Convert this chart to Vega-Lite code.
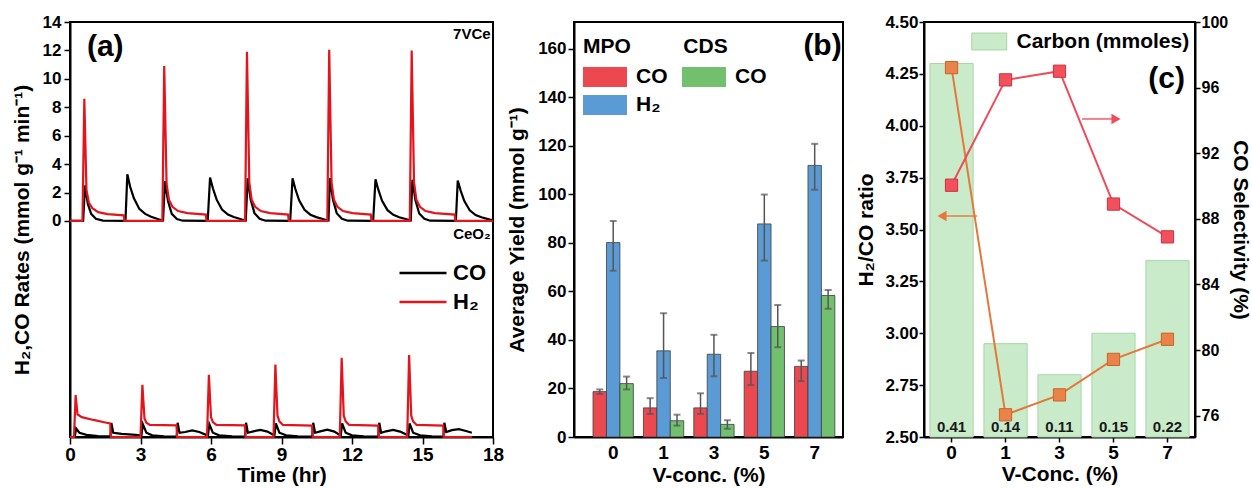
{
"$schema":"https://vega.github.io/schema/vega-lite/v6.json",
"autosize":{"type":"pad"},
"padding":{"left":10,"top":12,"right":1,"bottom":0},
"background":"white",
"bounds":"flush",
"spacing":81,
"config":{
 "font":"Liberation Sans",
 "view":{"stroke":"#000","strokeWidth":2},
 "axis":{"domainColor":"#000","domainWidth":2,"tickColor":"#000","tickWidth":1.5,"labelColor":"#000","labelFont":"Liberation Sans","labelFontWeight":"bold","labelFontSize":17,"titleFont":"Liberation Sans","titleFontWeight":"bold","titleFontSize":21,"titleColor":"#000","grid":false},
 "legend":{"labelFont":"Liberation Sans","labelFontWeight":"bold","labelColor":"#000","titleFont":"Liberation Sans","titleFontWeight":"bold","titleColor":"#000","padding":0,"labelLimit":400}
},
"datasets":{
 "a7":[
  {"gas":"CO","t":0,"r":0},{"gas":"CO","t":0.56,"r":0},{"gas":"CO","t":0.64,"r":2.5},{"gas":"CO","t":0.76,"r":1.2},{"gas":"CO","t":0.9,"r":0.5},{"gas":"CO","t":1.1,"r":0.15},{"gas":"CO","t":1.4,"r":0.03},{"gas":"CO","t":2.36,"r":0},{"gas":"CO","t":2.44,"r":3.28},{"gas":"CO","t":2.56,"r":2.4},{"gas":"CO","t":2.72,"r":1.6},{"gas":"CO","t":2.95,"r":0.85},{"gas":"CO","t":3.2,"r":0.5},{"gas":"CO","t":3.45,"r":0.3},{"gas":"CO","t":3.8,"r":0.1},{"gas":"CO","t":3.96,"r":0.04},
  {"gas":"CO","t":4.04,"r":2.8},{"gas":"CO","t":4.17,"r":1.4},{"gas":"CO","t":4.33,"r":0.5},{"gas":"CO","t":4.55,"r":0.14},{"gas":"CO","t":4.8,"r":0.02},{"gas":"CO","t":5.86,"r":0},{"gas":"CO","t":5.96,"r":3.05},{"gas":"CO","t":6.08,"r":2.3},{"gas":"CO","t":6.24,"r":1.5},{"gas":"CO","t":6.47,"r":0.8},{"gas":"CO","t":6.72,"r":0.45},{"gas":"CO","t":6.97,"r":0.28},{"gas":"CO","t":7.32,"r":0.1},{"gas":"CO","t":7.48,"r":0.04},
  {"gas":"CO","t":7.56,"r":3.0},{"gas":"CO","t":7.69,"r":1.5},{"gas":"CO","t":7.85,"r":0.55},{"gas":"CO","t":8.07,"r":0.15},{"gas":"CO","t":8.32,"r":0.02},{"gas":"CO","t":9.37,"r":0},{"gas":"CO","t":9.47,"r":3.0},{"gas":"CO","t":9.59,"r":2.25},{"gas":"CO","t":9.75,"r":1.45},{"gas":"CO","t":9.98,"r":0.78},{"gas":"CO","t":10.23,"r":0.44},{"gas":"CO","t":10.48,"r":0.27},{"gas":"CO","t":10.83,"r":0.1},{"gas":"CO","t":11.0,"r":0.04},
  {"gas":"CO","t":11.06,"r":3.02},{"gas":"CO","t":11.19,"r":1.5},{"gas":"CO","t":11.35,"r":0.55},{"gas":"CO","t":11.57,"r":0.15},{"gas":"CO","t":11.82,"r":0.02},{"gas":"CO","t":12.9,"r":0},{"gas":"CO","t":13.0,"r":2.93},{"gas":"CO","t":13.12,"r":2.2},{"gas":"CO","t":13.28,"r":1.42},{"gas":"CO","t":13.51,"r":0.76},{"gas":"CO","t":13.76,"r":0.43},{"gas":"CO","t":14.01,"r":0.26},{"gas":"CO","t":14.36,"r":0.1},{"gas":"CO","t":14.5,"r":0.04},
  {"gas":"CO","t":14.57,"r":2.9},{"gas":"CO","t":14.7,"r":1.45},{"gas":"CO","t":14.86,"r":0.53},{"gas":"CO","t":15.08,"r":0.15},{"gas":"CO","t":15.33,"r":0.02},{"gas":"CO","t":16.42,"r":0},{"gas":"CO","t":16.5,"r":2.85},{"gas":"CO","t":16.62,"r":2.15},{"gas":"CO","t":16.78,"r":1.4},{"gas":"CO","t":17.01,"r":0.75},{"gas":"CO","t":17.26,"r":0.42},{"gas":"CO","t":17.51,"r":0.26},{"gas":"CO","t":17.86,"r":0.1},{"gas":"CO","t":18,"r":0.07},
  {"gas":"H₂","t":0,"r":0},{"gas":"H₂","t":0.53,"r":0},{"gas":"H₂","t":0.61,"r":8.6},{"gas":"H₂","t":0.7,"r":2.2},{"gas":"H₂","t":0.8,"r":1.3},{"gas":"H₂","t":0.95,"r":0.9},{"gas":"H₂","t":1.2,"r":0.62},{"gas":"H₂","t":1.6,"r":0.48},{"gas":"H₂","t":2.29,"r":0.4},{"gas":"H₂","t":2.32,"r":0},
  {"gas":"H₂","t":3.93,"r":0},{"gas":"H₂","t":4.01,"r":10.9},{"gas":"H₂","t":4.11,"r":2.6},{"gas":"H₂","t":4.21,"r":1.5},{"gas":"H₂","t":4.36,"r":1.0},{"gas":"H₂","t":4.6,"r":0.7},{"gas":"H₂","t":5.0,"r":0.55},{"gas":"H₂","t":5.78,"r":0.45},{"gas":"H₂","t":5.81,"r":0},
  {"gas":"H₂","t":7.45,"r":0},{"gas":"H₂","t":7.53,"r":11.9},{"gas":"H₂","t":7.63,"r":2.7},{"gas":"H₂","t":7.73,"r":1.5},{"gas":"H₂","t":7.88,"r":1.0},{"gas":"H₂","t":8.12,"r":0.7},{"gas":"H₂","t":8.52,"r":0.55},{"gas":"H₂","t":9.28,"r":0.45},{"gas":"H₂","t":9.31,"r":0},
  {"gas":"H₂","t":10.95,"r":0},{"gas":"H₂","t":11.03,"r":12.05},{"gas":"H₂","t":11.13,"r":2.7},{"gas":"H₂","t":11.23,"r":1.5},{"gas":"H₂","t":11.38,"r":1.0},{"gas":"H₂","t":11.62,"r":0.7},{"gas":"H₂","t":12.02,"r":0.55},{"gas":"H₂","t":12.8,"r":0.45},{"gas":"H₂","t":12.83,"r":0},
  {"gas":"H₂","t":14.46,"r":0},{"gas":"H₂","t":14.54,"r":12.0},{"gas":"H₂","t":14.64,"r":2.7},{"gas":"H₂","t":14.74,"r":1.5},{"gas":"H₂","t":14.89,"r":1.0},{"gas":"H₂","t":15.13,"r":0.7},{"gas":"H₂","t":15.53,"r":0.55},{"gas":"H₂","t":16.37,"r":0.45},{"gas":"H₂","t":16.4,"r":0},{"gas":"H₂","t":18,"r":0}
 ],
 "aCe":[
  {"gas":"CO","t":0,"r":0},{"gas":"CO","t":0.2,"r":0},{"gas":"CO","t":0.26,"r":0.6},{"gas":"CO","t":0.4,"r":0.3},{"gas":"CO","t":0.7,"r":0.15},{"gas":"CO","t":1.2,"r":0.07},{"gas":"CO","t":1.72,"r":0.05},{"gas":"CO","t":1.76,"r":0.98},{"gas":"CO","t":1.84,"r":0.3},{"gas":"CO","t":2.2,"r":0.22},{"gas":"CO","t":2.8,"r":0.15},{"gas":"CO","t":3.04,"r":0.1},
  {"gas":"CO","t":3.1,"r":0.9},{"gas":"CO","t":3.25,"r":0.3},{"gas":"CO","t":3.5,"r":0.12},{"gas":"CO","t":4.0,"r":0.05},{"gas":"CO","t":4.54,"r":0.03},{"gas":"CO","t":4.58,"r":1.0},{"gas":"CO","t":4.66,"r":0.3},{"gas":"CO","t":4.9,"r":0.35},{"gas":"CO","t":5.2,"r":0.47},{"gas":"CO","t":5.5,"r":0.35},{"gas":"CO","t":5.87,"r":0.1},
  {"gas":"CO","t":5.93,"r":0.9},{"gas":"CO","t":6.08,"r":0.3},{"gas":"CO","t":6.35,"r":0.12},{"gas":"CO","t":6.9,"r":0.05},{"gas":"CO","t":7.45,"r":0.03},{"gas":"CO","t":7.49,"r":1.0},{"gas":"CO","t":7.57,"r":0.3},{"gas":"CO","t":7.8,"r":0.4},{"gas":"CO","t":8.1,"r":0.5},{"gas":"CO","t":8.4,"r":0.38},{"gas":"CO","t":8.7,"r":0.1},
  {"gas":"CO","t":8.76,"r":0.95},{"gas":"CO","t":8.91,"r":0.3},{"gas":"CO","t":9.2,"r":0.12},{"gas":"CO","t":9.7,"r":0.05},{"gas":"CO","t":10.31,"r":0.03},{"gas":"CO","t":10.35,"r":1.0},{"gas":"CO","t":10.43,"r":0.3},{"gas":"CO","t":10.65,"r":0.4},{"gas":"CO","t":10.95,"r":0.52},{"gas":"CO","t":11.25,"r":0.38},{"gas":"CO","t":11.52,"r":0.1},
  {"gas":"CO","t":11.58,"r":0.95},{"gas":"CO","t":11.73,"r":0.3},{"gas":"CO","t":12.0,"r":0.12},{"gas":"CO","t":12.5,"r":0.05},{"gas":"CO","t":13.12,"r":0.03},{"gas":"CO","t":13.16,"r":1.0},{"gas":"CO","t":13.24,"r":0.3},{"gas":"CO","t":13.45,"r":0.4},{"gas":"CO","t":13.75,"r":0.5},{"gas":"CO","t":14.05,"r":0.38},{"gas":"CO","t":14.4,"r":0.1},
  {"gas":"CO","t":14.45,"r":0.95},{"gas":"CO","t":14.6,"r":0.3},{"gas":"CO","t":14.9,"r":0.12},{"gas":"CO","t":15.4,"r":0.05},{"gas":"CO","t":15.89,"r":0.03},{"gas":"CO","t":15.93,"r":1.0},{"gas":"CO","t":16.01,"r":0.35},{"gas":"CO","t":16.25,"r":0.48},{"gas":"CO","t":16.55,"r":0.55},{"gas":"CO","t":16.85,"r":0.42},{"gas":"CO","t":17.1,"r":0.3},
  {"gas":"H₂","t":0,"r":0},{"gas":"H₂","t":0.17,"r":0},{"gas":"H₂","t":0.24,"r":2.95},{"gas":"H₂","t":0.32,"r":1.6},{"gas":"H₂","t":0.5,"r":1.4},{"gas":"H₂","t":1.0,"r":1.2},{"gas":"H₂","t":1.5,"r":1.02},{"gas":"H₂","t":1.71,"r":0.95},{"gas":"H₂","t":1.74,"r":0},
  {"gas":"H₂","t":3.0,"r":0},{"gas":"H₂","t":3.08,"r":3.67},{"gas":"H₂","t":3.17,"r":1.3},{"gas":"H₂","t":3.25,"r":1.0},{"gas":"H₂","t":3.4,"r":0.85},{"gas":"H₂","t":4.53,"r":0.82},{"gas":"H₂","t":4.56,"r":0},
  {"gas":"H₂","t":5.83,"r":0},{"gas":"H₂","t":5.91,"r":4.37},{"gas":"H₂","t":6.0,"r":1.4},{"gas":"H₂","t":6.08,"r":1.05},{"gas":"H₂","t":6.23,"r":0.85},{"gas":"H₂","t":7.44,"r":0.82},{"gas":"H₂","t":7.47,"r":0},
  {"gas":"H₂","t":8.66,"r":0},{"gas":"H₂","t":8.74,"r":5.1},{"gas":"H₂","t":8.83,"r":1.5},{"gas":"H₂","t":8.91,"r":1.1},{"gas":"H₂","t":9.06,"r":0.85},{"gas":"H₂","t":10.3,"r":0.8},{"gas":"H₂","t":10.33,"r":0},
  {"gas":"H₂","t":11.48,"r":0},{"gas":"H₂","t":11.56,"r":5.57},{"gas":"H₂","t":11.65,"r":1.5},{"gas":"H₂","t":11.73,"r":1.1},{"gas":"H₂","t":11.88,"r":0.85},{"gas":"H₂","t":13.11,"r":0.8},{"gas":"H₂","t":13.14,"r":0},
  {"gas":"H₂","t":14.35,"r":0},{"gas":"H₂","t":14.43,"r":5.76},{"gas":"H₂","t":14.52,"r":1.5},{"gas":"H₂","t":14.6,"r":1.1},{"gas":"H₂","t":14.75,"r":0.85},{"gas":"H₂","t":15.88,"r":0.8},{"gas":"H₂","t":15.91,"r":0},{"gas":"H₂","t":17.1,"r":0}
 ],
 "b":[
  {"conc":"0","series":"MPO CO","v":18.7,"lo":17.7,"hi":19.6},{"conc":"0","series":"MPO H₂","v":80.1,"lo":68.5,"hi":89.0},{"conc":"0","series":"CDS CO","v":22.0,"lo":19.6,"hi":24.9},
  {"conc":"1","series":"MPO CO","v":12.0,"lo":9.5,"hi":16.0},{"conc":"1","series":"MPO H₂","v":35.5,"lo":24.3,"hi":51.0},{"conc":"1","series":"CDS CO","v":6.7,"lo":4.7,"hi":9.2},
  {"conc":"3","series":"MPO CO","v":12.0,"lo":9.5,"hi":18.0},{"conc":"3","series":"MPO H₂","v":34.1,"lo":25.0,"hi":42.1},{"conc":"3","series":"CDS CO","v":5.2,"lo":3.4,"hi":6.9},
  {"conc":"5","series":"MPO CO","v":27.1,"lo":21.4,"hi":34.6},{"conc":"5","series":"MPO H₂","v":87.8,"lo":72.7,"hi":99.9},{"conc":"5","series":"CDS CO","v":45.5,"lo":37.0,"hi":54.4},
  {"conc":"7","series":"MPO CO","v":29.1,"lo":23.0,"hi":31.5},{"conc":"7","series":"MPO H₂","v":111.9,"lo":101.9,"hi":120.8},{"conc":"7","series":"CDS CO","v":58.3,"lo":52.8,"hi":60.6}
 ],
 "c":[
  {"conc":"0","carbon":0.41,"ratio":4.28,"sel":90.05},
  {"conc":"1","carbon":0.14,"ratio":2.607,"sel":96.47},
  {"conc":"3","carbon":0.11,"ratio":2.703,"sel":97.0},
  {"conc":"5","carbon":0.15,"ratio":2.874,"sel":88.9},
  {"conc":"7","carbon":0.22,"ratio":2.971,"sel":86.9}
 ]
},
"resolve":{"scale":{"color":"independent","fill":"independent"},"legend":{"color":"independent","fill":"independent"}},
"hconcat":[
 {
  "width":423,"height":415,
  "layer":[
   {"data":{"name":"a7"},"layer":[
     {"mark":{"type":"line","strokeWidth":2.2},
      "encoding":{
       "x":{"field":"t","type":"quantitative","scale":{"domain":[0,18],"nice":false,"zero":false},"axis":{"values":[0,1.5,3,4.5,6,7.5,9,10.5,12,13.5,15,16.5,18],"labelFlush":false,"labelExpr":"datum.value % 3 == 0 ? datum.label : ''","tickSize":{"condition":{"test":"datum.value % 3 == 0","value":7},"value":4},"labelFontSize":19,"labelPadding":1,"title":"Time (hr)","titlePadding":0}},
       "y":{"field":"r","type":"quantitative","scale":{"domain":[-15.2,14],"nice":false,"zero":false},"axis":{"values":[0,1,2,3,4,5,6,7,8,9,10,11,12,13,14],"labelExpr":"datum.value % 2 == 0 ? datum.label : ''","tickSize":{"condition":{"test":"datum.value % 2 == 0","value":6},"value":3},"labelFontSize":17,"labelPadding":3,"title":"H₂,CO Rates (mmol g⁻¹ min⁻¹)","titlePadding":10}},
       "color":{"field":"gas","type":"nominal","scale":{"domain":["CO","H₂"],"range":["#000000","#E3141C"]},"legend":{"orient":"none","legendX":340,"legendY":238,"title":null,"symbolType":"M-2,0L2,0","symbolSize":552,"symbolStrokeWidth":2.5,"labelFontSize":22,"labelOffset":17,"rowPadding":5}}
      }},
     {"data":{"values":[{}]},"mark":{"type":"text","align":"right","baseline":"middle","fontSize":15,"fontWeight":"bold","font":"Liberation Sans","color":"#000"},"encoding":{"x":{"datum":17.9},"y":{"datum":13.15},"text":{"value":"7VCe"}}},
     {"data":{"values":[{}]},"mark":{"type":"text","align":"right","baseline":"middle","fontSize":15,"fontWeight":"bold","font":"Liberation Sans","color":"#000"},"encoding":{"x":{"datum":17.9},"y":{"datum":-0.9},"text":{"value":"CeO₂"}}},
     {"data":{"values":[{}]},"mark":{"type":"text","align":"left","baseline":"alphabetic","fontSize":30,"fontWeight":"bold","font":"Liberation Sans","color":"#000"},"encoding":{"x":{"datum":0.72},"y":{"datum":11.6},"text":{"value":"(a)"}}}
   ]},
   {"data":{"name":"aCe"},"mark":{"type":"line","strokeWidth":2.2},
    "encoding":{
     "x":{"field":"t","type":"quantitative","scale":{"domain":[0,18],"nice":false,"zero":false}},
     "y":{"field":"r","type":"quantitative","scale":{"domain":[0,29.2],"nice":false,"zero":false},"axis":null},
     "color":{"field":"gas","type":"nominal","scale":{"domain":["CO","H₂"],"range":["#000000","#E3141C"]}}
    }}
  ],
  "resolve":{"scale":{"y":"independent"}}
 },
 {
  "width":269,"height":415,
  "layer":[
   {"data":{"name":"b"},"mark":{"type":"bar","stroke":"#3c3c3c","strokeWidth":0.8},
    "encoding":{
     "x":{"field":"conc","type":"nominal","sort":["0","1","3","5","7"],"scale":{"paddingInner":0.2,"paddingOuter":0.27,"align":0.7},"axis":{"labelAngle":0,"ticks":false,"labelFontSize":19,"labelPadding":6,"title":"V-conc. (%)","titlePadding":2}},
     "xOffset":{"field":"series","type":"nominal","sort":["MPO CO","MPO H₂","CDS CO"],"scale":{"paddingInner":0,"paddingOuter":0}},
     "y":{"field":"v","type":"quantitative","scale":{"domain":[0,171],"nice":false},"axis":{"values":[0,10,20,30,40,50,60,70,80,90,100,110,120,130,140,150,160],"labelExpr":"datum.value % 20 == 0 ? datum.label : ''","tickSize":{"condition":{"test":"datum.value % 20 == 0","value":6},"value":3},"labelFontSize":17,"labelPadding":2,"title":"Average Yield (mmol g⁻¹)","titlePadding":10}},
     "fill":{"field":"series","type":"nominal","scale":{"domain":["MPO CO","MPO H₂","CDS CO"],"range":["#EC4850","#5B9BD5","#72BF6E"]},"legend":{"orient":"none","legendX":9,"legendY":14,"title":"MPO\u00a0\u00a0\u00a0\u00a0\u00a0\u00a0\u00a0\u00a0\u00a0CDS","titleFontSize":21,"titlePadding":9,"columns":2,"columnPadding":14,"rowPadding":7,"symbolType":"M-1,-0.9L3,-0.9L3,0.9L-1,0.9Z","symbolSize":484,"symbolStrokeWidth":0,"labelFontSize":21,"labelOffset":31,"labelExpr":"split(datum.label, ' ')[1]"}}
    }},
   {"data":{"name":"b"},"mark":{"type":"rule","color":"#555555","strokeWidth":1.5},
    "encoding":{
     "x":{"field":"conc","type":"nominal","sort":["0","1","3","5","7"]},
     "xOffset":{"field":"series","type":"nominal","sort":["MPO CO","MPO H₂","CDS CO"]},
     "y":{"field":"lo","type":"quantitative","title":"Average Yield (mmol g⁻¹)"},"y2":{"field":"hi"}}},
   {"data":{"name":"b"},"mark":{"type":"tick","color":"#555555","thickness":2,"size":7},
    "encoding":{
     "x":{"field":"conc","type":"nominal","sort":["0","1","3","5","7"]},
     "xOffset":{"field":"series","type":"nominal","sort":["MPO CO","MPO H₂","CDS CO"]},
     "y":{"field":"hi","type":"quantitative","title":"Average Yield (mmol g⁻¹)"}}},
   {"data":{"name":"b"},"mark":{"type":"tick","color":"#555555","thickness":2,"size":7},
    "encoding":{
     "x":{"field":"conc","type":"nominal","sort":["0","1","3","5","7"]},
     "xOffset":{"field":"series","type":"nominal","sort":["MPO CO","MPO H₂","CDS CO"]},
     "y":{"field":"lo","type":"quantitative","title":"Average Yield (mmol g⁻¹)"}}},
   {"data":{"values":[{"conc":"7"}]},"mark":{"type":"text","align":"right","baseline":"alphabetic","dx":27,"fontSize":30,"fontWeight":"bold","font":"Liberation Sans","color":"#000"},
    "encoding":{
     "x":{"field":"conc","type":"nominal","sort":["0","1","3","5","7"]},
     "y":{"datum":157.5},
     "text":{"value":"(b)"}}}
  ]
 },
 {
  "width":271,"height":415,
  "layer":[
   {"data":{"name":"c"},"layer":[
     {"mark":{"type":"bar","stroke":"#A6D7A6","strokeWidth":1},
      "encoding":{
       "x":{"field":"conc","type":"nominal","sort":["0","1","3","5","7"],"scale":{"paddingInner":0.2,"paddingOuter":0.11},"axis":{"labelAngle":0,"tickSize":5,"labelFontSize":19,"labelPadding":1,"title":"V-Conc. (%)","titlePadding":1}},
       "y":{"field":"carbon","type":"quantitative","scale":{"domain":[0.05,0.45],"nice":false,"zero":false},"axis":null},
       "y2":{"datum":0.05},
       "fill":{"datum":"Carbon (mmoles)","type":"nominal","scale":{"range":["#C9EBC9"]},"legend":{"orient":"none","legendX":46,"legendY":9,"title":null,"symbolType":"M-1,-0.97L3,-0.97L3,0.97L-1,0.97Z","symbolSize":306,"symbolStrokeColor":"#A6D7A6","symbolStrokeWidth":1,"labelFontSize":21,"labelOffset":25.5}}
      }},
     {"mark":{"type":"text","baseline":"bottom","dy":-2,"fontSize":15,"fontWeight":"bold","font":"Liberation Sans","color":"#1a1a1a"},
      "encoding":{
       "x":{"field":"conc","type":"nominal","sort":["0","1","3","5","7"]},
       "y":{"datum":0.05},
       "text":{"field":"carbon","type":"quantitative","format":".2f"}
      }}
   ]},
   {"data":{"name":"c"},"layer":[
     {"mark":{"type":"line","color":"#E4783C","strokeWidth":2},
      "encoding":{
       "x":{"field":"conc","type":"nominal","sort":["0","1","3","5","7"]},
       "y":{"field":"ratio","type":"quantitative","scale":{"domain":[2.5,4.5],"nice":false,"zero":false},"axis":{"orient":"left","values":[2.5,2.625,2.75,2.875,3,3.125,3.25,3.375,3.5,3.625,3.75,3.875,4,4.125,4.25,4.375,4.5],"format":".2f","labelExpr":"abs(datum.value*4-round(datum.value*4))<0.01 ? datum.label : ''","tickSize":{"condition":{"test":"abs(datum.value*4-round(datum.value*4))<0.01","value":5},"value":3},"labelFontSize":17,"labelPadding":1,"title":"H₂/CO ratio","titlePadding":8}}
      }},
     {"mark":{"type":"point","shape":"square","filled":true,"size":150,"fill":"#E9834A","stroke":"#C9632B","strokeWidth":1,"opacity":1},
      "encoding":{
       "x":{"field":"conc","type":"nominal","sort":["0","1","3","5","7"]},
       "y":{"field":"ratio","type":"quantitative","title":"H₂/CO ratio"}
      }},
     {"data":{"values":[{"conc":"0"}]},"mark":{"type":"tick","orient":"horizontal","color":"#E4783C","size":32,"thickness":2,"xOffset":9.5},
      "encoding":{"x":{"field":"conc","type":"nominal","sort":["0","1","3","5","7"]},"y":{"datum":3.565}}},
     {"data":{"values":[{"conc":"0"}]},"mark":{"type":"point","shape":"triangle-left","filled":true,"size":110,"color":"#E4783C","opacity":1,"xOffset":-9.5},
      "encoding":{"x":{"field":"conc","type":"nominal","sort":["0","1","3","5","7"]},"y":{"datum":3.565}}},
     {"data":{"values":[{"conc":"7"}]},"mark":{"type":"text","align":"right","baseline":"alphabetic","dx":17.5,"fontSize":30,"fontWeight":"bold","font":"Liberation Sans","color":"#000"},
      "encoding":{"x":{"field":"conc","type":"nominal","sort":["0","1","3","5","7"]},"y":{"datum":4.182},"text":{"value":"(c)"}}}
   ]},
   {"data":{"name":"c"},"layer":[
     {"mark":{"type":"line","color":"#EE4B5B","strokeWidth":2},
      "encoding":{
       "x":{"field":"conc","type":"nominal","sort":["0","1","3","5","7"]},
       "y":{"field":"sel","type":"quantitative","scale":{"domain":[74.7,100],"nice":false,"zero":false},"axis":{"orient":"right","values":[76,78,80,82,84,86,88,90,92,94,96,98,100],"labelExpr":"(datum.value-76) % 4 == 0 ? datum.label : ''","tickSize":{"condition":{"test":"(datum.value-76) % 4 == 0","value":5},"value":3},"labelFontSize":16,"labelPadding":1,"title":"CO Selectivity (%)","titlePadding":2}}
      }},
     {"mark":{"type":"point","shape":"square","filled":true,"size":150,"fill":"#F2505C","stroke":"#C93340","strokeWidth":1,"opacity":1},
      "encoding":{
       "x":{"field":"conc","type":"nominal","sort":["0","1","3","5","7"]},
       "y":{"field":"sel","type":"quantitative","title":"CO Selectivity (%)"}
      }},
     {"data":{"values":[{"conc":"3"}]},"mark":{"type":"tick","orient":"horizontal","color":"#EE4B5B","size":30,"thickness":2,"xOffset":37.5},
      "encoding":{"x":{"field":"conc","type":"nominal","sort":["0","1","3","5","7"]},"y":{"datum":94.09}}},
     {"data":{"values":[{"conc":"3"}]},"mark":{"type":"point","shape":"triangle-right","filled":true,"size":110,"color":"#EE4B5B","opacity":1,"xOffset":56.5},
      "encoding":{"x":{"field":"conc","type":"nominal","sort":["0","1","3","5","7"]},"y":{"datum":94.09}}}
   ]}
  ],
  "resolve":{"scale":{"y":"independent"}}
 }
]
}
